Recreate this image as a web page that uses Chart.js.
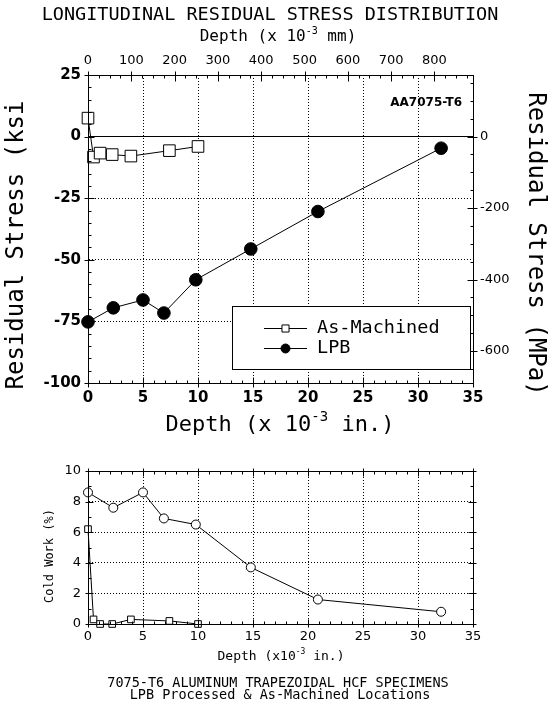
<!DOCTYPE html>
<html>
<head>
<meta charset="utf-8">
<title>Longitudinal residual stress distribution</title>
<script src="https://cdn.jsdelivr.net/npm/chart.js@4.4.1/dist/chart.umd.min.js"></script>
<style>
  html, body { margin: 0; padding: 0; background: #fff; }
  #page { position: relative; width: 550px; height: 705px; overflow: hidden; }
  #stress { position: absolute; left: 0; top: 0; }
  #coldwork { position: absolute; left: 0; top: 448px; }
</style>
</head>
<body>
<div id="page">
  <canvas id="stress" width="550" height="448"></canvas>
  <canvas id="coldwork" width="550" height="257"></canvas>
</div>
<script>
// Values (depth in 10^-3 in.)
const asMachinedDepth = [0, 0.5, 1.1, 2.2, 3.9, 7.4, 10.0];
const asMachinedStress = [7.5, -8.3, -6.7, -7.3, -7.9, -5.7, -4.0];      // ksi
const asMachinedColdWork = [6.2, 0.3, 0.0, 0.0, 0.3, 0.2, 0.0];          // %

const lpbDepth = [0, 2.3, 5.0, 6.9, 9.8, 14.8, 20.9, 32.1];
const lpbStress = [-75.2, -69.5, -66.3, -71.6, -58.1, -45.6, -30.4, -4.7]; // ksi
const lpbColdWork = [8.6, 7.6, 8.6, 6.9, 6.5, 3.7, 1.6, 0.8];             // %

// Tick labels
const depthTicks = [0, 5, 10, 15, 20, 25, 30, 35];
const mmTicks = [0, 100, 200, 300, 400, 500, 600, 700, 800];
const ksiTicks = [-100, -75, -50, -25, 0, 25];
const mpaTicks = [-600, -400, -200, 0];
const coldWorkTicks = [0, 2, 4, 6, 8, 10];

const KSI_TO_MPA = 6.894757;
const IN_TO_MM = 25.4;
const MONO = "'DejaVu Sans Mono', monospace";
const SANS = "'DejaVu Sans', sans-serif";

Chart.defaults.font.family = SANS;
Chart.defaults.color = '#000';

const points = (xs, ys) => xs.map((x, i) => ({ x, y: ys[i] }));
const setTicks = values => scale => { scale.ticks = values.map(v => ({ value: v })); };

// draws text with optional superscript pieces: [['Depth (x 10', false], ['-3', true], ...]
function drawRich(ctx, t) {
  const parts = typeof t.text === 'string' ? [[t.text, false]] : t.text;
  const weight = t.weight || 'normal';
  const family = t.family || MONO;
  const main = `${weight} ${t.size}px ${family}`;
  const sup = `${weight} ${Math.round(t.size * 0.62)}px ${family}`;
  ctx.save();
  ctx.translate(t.x, t.y);
  if (t.rotate) ctx.rotate(t.rotate * Math.PI / 180);
  ctx.fillStyle = '#000';
  ctx.textBaseline = 'middle';
  ctx.textAlign = 'left';
  let total = 0;
  const widths = parts.map(([s, isSup]) => {
    ctx.font = isSup ? sup : main;
    const w = ctx.measureText(s).width;
    total += w;
    return w;
  });
  let x = t.align === 'right' ? -total : t.align === 'left' ? 0 : -total / 2;
  parts.forEach(([s, isSup], i) => {
    ctx.font = isSup ? sup : main;
    ctx.fillText(s, x, isSup ? -t.size * 0.36 : 0);
    x += widths[i];
  });
  ctx.restore();
}

const textPlugin = {
  id: 'texts',
  afterDraw(chart, args, opts) {
    for (const t of opts.items || []) drawRich(chart.ctx, t);
  }
};

// plot frame + tick marks pointing into the plot
const framePlugin = {
  id: 'frame',
  afterDatasetsDraw(chart, args, opts) {
    const { ctx, chartArea: a } = chart;
    ctx.save();
    ctx.strokeStyle = '#000';
    ctx.lineWidth = 1;
    ctx.strokeRect(Math.round(a.left) + 0.5, Math.round(a.top) + 0.5,
      Math.round(a.right) - Math.round(a.left), Math.round(a.bottom) - Math.round(a.top));

    for (const tk of opts.ticks || []) {
      const scale = chart.scales[tk.scale];
      const lo = Math.min(scale.min, scale.max), hi = Math.max(scale.min, scale.max);
      const sides = tk.mirror ? [tk.side, { bottom: 'top', top: 'bottom', left: 'right', right: 'left' }[tk.side]] : [tk.side];
      for (let i = Math.ceil(lo / tk.minor - 1e-9); i * tk.minor <= hi + 1e-9; i++) {
        const v = i * tk.minor;
        const r = v / tk.major;
        const isMajor = Math.abs(r - Math.round(r)) < 1e-6;
        const p = Math.round(scale.getPixelForValue(v)) + 0.5;
        const inLen = isMajor ? tk.majorIn : tk.minorIn;
        const outLen = isMajor ? tk.majorOut : 0;
        ctx.beginPath();
        for (const side of sides) {
          if (side === 'bottom') { const e = Math.round(a.bottom) + 0.5; ctx.moveTo(p, e + outLen); ctx.lineTo(p, e - inLen); }
          if (side === 'top') { const e = Math.round(a.top) + 0.5; ctx.moveTo(p, e - outLen); ctx.lineTo(p, e + inLen); }
          if (side === 'left') { const e = Math.round(a.left) + 0.5; ctx.moveTo(e - outLen, p); ctx.lineTo(e + inLen, p); }
          if (side === 'right') { const e = Math.round(a.right) + 0.5; ctx.moveTo(e + outLen, p); ctx.lineTo(e - inLen, p); }
        }
        ctx.stroke();
      }
    }
    ctx.restore();
  }
};

const legendPlugin = {
  id: 'legendBox',
  afterDraw(chart, args, opts) {
    if (!opts.box) return;
    const ctx = chart.ctx;
    const b = opts.box;
    ctx.save();
    ctx.fillStyle = '#fff';
    ctx.fillRect(b.x, b.y, b.w, b.h);
    ctx.strokeStyle = '#000';
    ctx.lineWidth = 1;
    ctx.strokeRect(b.x + 0.5, b.y + 0.5, b.w, b.h);
    chart.data.datasets.forEach((ds, i) => {
      const y = b.y + opts.firstRow + i * opts.rowGap;
      ctx.strokeStyle = '#000';
      ctx.beginPath();
      ctx.moveTo(b.x + opts.lineStart, y + 0.5);
      ctx.lineTo(b.x + opts.lineEnd, y + 0.5);
      ctx.stroke();
      ctx.fillStyle = ds.pointBackgroundColor;
      ctx.strokeStyle = ds.pointBorderColor;
      ctx.lineWidth = 1;
      Chart.helpers.drawPoint(ctx, {
        pointStyle: ds.pointStyle, rotation: 0,
        radius: opts.markerRadius[i], borderWidth: 1
      }, b.x + (opts.lineStart + opts.lineEnd) / 2, y + 0.5);
      drawRich(ctx, { text: ds.label, x: b.x + opts.textX, y: y + 0.5, size: opts.fontSize, align: 'left' });
    });
    ctx.restore();
  }
};

const gridDash = c => (c.tick && c.tick.value === 0) ? [] : [1, 2];

// ---- Residual stress chart ----
new Chart(document.getElementById('stress'), {
  type: 'scatter',
  data: {
    datasets: [
      {
        label: 'As-Machined',
        data: points(asMachinedDepth, asMachinedStress),
        showLine: true,
        borderColor: '#000',
        borderWidth: 1,
        pointStyle: 'rect',
        pointRadius: 8.2,
        pointBackgroundColor: '#fff',
        pointBorderColor: '#000',
        pointBorderWidth: 1,
        clip: false
      },
      {
        label: 'LPB',
        data: points(lpbDepth, lpbStress),
        showLine: true,
        borderColor: '#000',
        borderWidth: 1,
        pointStyle: 'circle',
        pointRadius: 6.3,
        pointBackgroundColor: '#000',
        pointBorderColor: '#000',
        pointBorderWidth: 1,
        clip: false
      }
    ]
  },
  options: {
    responsive: false,
    animation: false,
    events: [],
    layout: { padding: 0 },
    scales: {
      x: {
        type: 'linear', position: 'bottom', min: 0, max: 35, bounds: 'data',
        afterBuildTicks: setTicks(depthTicks),
        afterFit: s => { s.height = 65; },
        ticks: { font: { size: 15, weight: 'bold' }, color: '#000', padding: 6, maxRotation: 0, autoSkip: false },
        grid: { drawTicks: false, color: '#000' },
        border: { color: '#000', dash: [1, 2] }
      },
      y: {
        type: 'linear', position: 'left', min: -100, max: 25, bounds: 'data',
        afterBuildTicks: setTicks(ksiTicks),
        afterFit: s => { s.width = 88; },
        ticks: { font: { size: 15, weight: 'bold' }, color: '#000', padding: 7 },
        grid: { drawTicks: false, color: '#000' },
        border: { color: '#000', dash: gridDash }
      },
      x2: {
        type: 'linear', position: 'top', min: 0, max: 35 * IN_TO_MM, bounds: 'data',
        afterBuildTicks: setTicks(mmTicks),
        afterFit: s => { s.height = 75; },
        ticks: { font: { size: 13 }, color: '#000', padding: 7, maxRotation: 0, autoSkip: false },
        grid: { display: false, drawTicks: false },
        border: { color: '#000' }
      },
      y2: {
        type: 'linear', position: 'right', min: -100 * KSI_TO_MPA, max: 25 * KSI_TO_MPA, bounds: 'data',
        afterBuildTicks: setTicks(mpaTicks),
        afterFit: s => { s.width = 77; },
        ticks: { font: { size: 13 }, color: '#000', padding: 7 },
        grid: { display: false, drawTicks: false },
        border: { color: '#000' }
      }
    },
    plugins: {
      legend: { display: false },
      tooltip: { enabled: false },
      frame: {
        ticks: [
          { scale: 'x', side: 'bottom', major: 5, minor: 1, majorIn: 6, majorOut: 4, minorIn: 3 },
          { scale: 'y', side: 'left', major: 25, minor: 5, majorIn: 6, majorOut: 4, minorIn: 3 },
          { scale: 'x2', side: 'top', major: 100, minor: 25, majorIn: 6, majorOut: 4, minorIn: 3 },
          { scale: 'y2', side: 'right', major: 200, minor: 50, majorIn: 6, majorOut: 4, minorIn: 3 }
        ]
      },
      legendBox: {
        box: { x: 232, y: 306, w: 238, h: 63 },
        firstRow: 22, rowGap: 20,
        lineStart: 32, lineEnd: 75, textX: 85,
        markerRadius: [5, 4.5], fontSize: 18.5
      },
      texts: {
        items: [
          { text: 'LONGITUDINAL RESIDUAL STRESS DISTRIBUTION', x: 270, y: 15, size: 18.5 },
          { text: [['Depth (x 10', false], ['-3', true], [' mm)', false]], x: 278, y: 37, size: 16 },
          { text: 'Residual Stress (ksi', x: 17, y: 245, size: 24, rotate: -90 },
          { text: 'Residual Stress (MPa)', x: 535, y: 244, size: 24, rotate: 90 },
          { text: [['Depth (x 10', false], ['-3', true], [' in.)', false]], x: 280, y: 425, size: 22 },
          { text: 'AA7075-T6', x: 462, y: 103, size: 12, weight: 'bold', family: SANS, align: 'right' }
        ]
      }
    }
  },
  plugins: [framePlugin, legendPlugin, textPlugin]
});

// ---- Cold work chart ----
new Chart(document.getElementById('coldwork'), {
  type: 'scatter',
  data: {
    datasets: [
      {
        label: 'As-Machined',
        data: points(asMachinedDepth, asMachinedColdWork),
        showLine: true,
        borderColor: '#000',
        borderWidth: 1,
        pointStyle: 'rect',
        pointRadius: 4.7,
        pointBackgroundColor: '#fff',
        pointBorderColor: '#000',
        pointBorderWidth: 1,
        clip: false
      },
      {
        label: 'LPB',
        data: points(lpbDepth, lpbColdWork),
        showLine: true,
        borderColor: '#000',
        borderWidth: 1,
        pointStyle: 'circle',
        pointRadius: 4.5,
        pointBackgroundColor: '#fff',
        pointBorderColor: '#000',
        pointBorderWidth: 1,
        clip: false
      }
    ]
  },
  options: {
    responsive: false,
    animation: false,
    events: [],
    layout: { padding: { top: 23, right: 77, left: 0, bottom: 0 } },
    scales: {
      x: {
        type: 'linear', position: 'bottom', min: 0, max: 35, bounds: 'data',
        afterBuildTicks: setTicks(depthTicks),
        afterFit: s => { s.height = 81; },
        ticks: { font: { size: 13 }, color: '#000', padding: 5, maxRotation: 0, autoSkip: false },
        grid: { drawTicks: false, color: '#000' },
        border: { color: '#000', dash: [1, 2] }
      },
      y: {
        type: 'linear', position: 'left', min: 0, max: 10, bounds: 'data',
        afterBuildTicks: setTicks(coldWorkTicks),
        afterFit: s => { s.width = 88; },
        ticks: { font: { size: 13 }, color: '#000', padding: 7 },
        grid: { drawTicks: false, color: '#000' },
        border: { color: '#000', dash: [1, 2] }
      }
    },
    plugins: {
      legend: { display: false },
      tooltip: { enabled: false },
      frame: {
        ticks: [
          { scale: 'x', side: 'bottom', mirror: true, major: 5, minor: 1, majorIn: 5, majorOut: 3, minorIn: 3 },
          { scale: 'y', side: 'left', mirror: true, major: 2, minor: 1, majorIn: 5, majorOut: 3, minorIn: 3 }
        ]
      },
      texts: {
        items: [
          { text: 'Cold Work (%)', x: 50, y: 108, size: 12, rotate: -90 },
          { text: [['Depth (x10', false], ['-3', true], [' in.)', false]], x: 281, y: 209, size: 13 },
          { text: '7075-T6 ALUMINUM TRAPEZOIDAL HCF SPECIMENS', x: 278, y: 235, size: 13.5 },
          { text: 'LPB Processed & As-Machined Locations', x: 280, y: 247, size: 13.5 }
        ]
      }
    }
  },
  plugins: [framePlugin, textPlugin]
});
</script>
</body>
</html>
